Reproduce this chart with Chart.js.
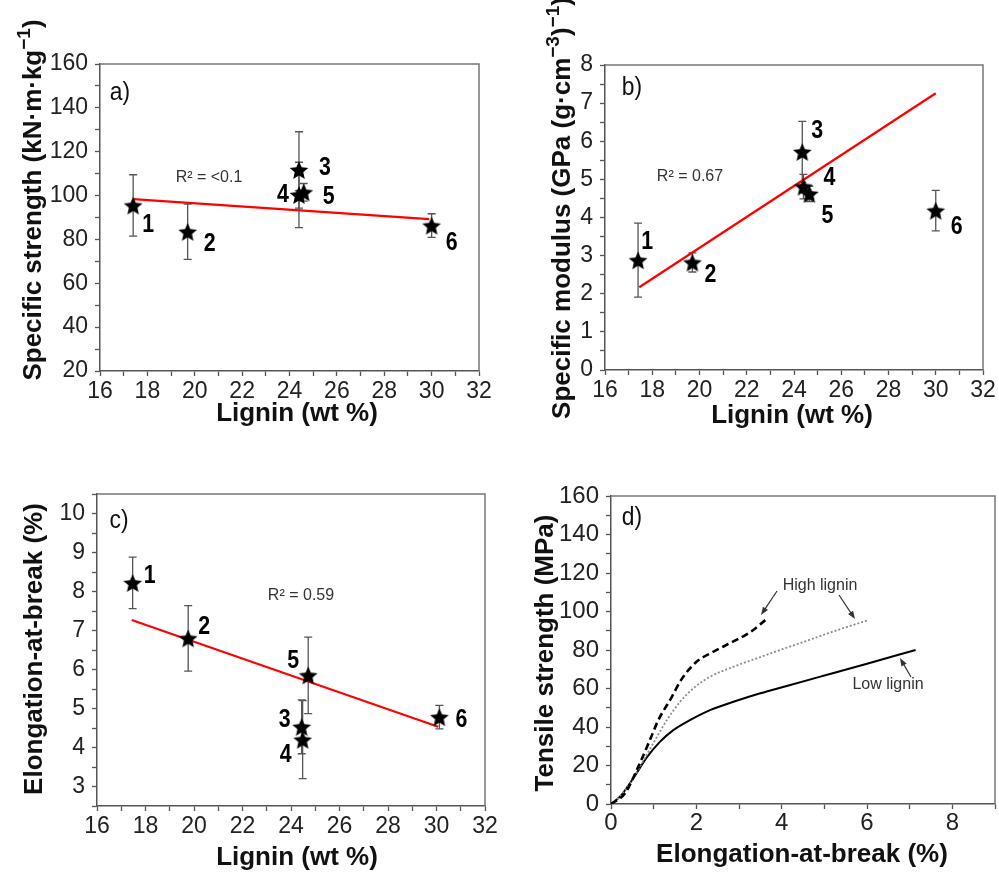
<!DOCTYPE html>
<html>
<head>
<meta charset="utf-8">
<script src="https://cdn.jsdelivr.net/npm/chart.js@4.4.1/dist/chart.umd.min.js"></script>
<style>
  body { margin: 0; background: #fff; }
  #wrap { position: relative; width: 999px; height: 872px; overflow: hidden; background: #fff; }
  canvas { position: absolute; }
</style>
</head>
<body>
<div id="wrap">
  <canvas id="panelA" width="495" height="440" style="left:0;top:0"></canvas>
  <canvas id="panelB" width="504" height="440" style="left:495px;top:0"></canvas>
  <canvas id="panelC" width="500" height="432" style="left:0;top:440px"></canvas>
  <canvas id="panelD" width="499" height="432" style="left:500px;top:440px"></canvas>
</div>
<script>
const SANS = '"Liberation Sans", Arial, Helvetica, sans-serif';

// sample numbers written next to each star
const sampleNames = ["1", "2", "3", "4", "5", "6"];

// a) specific strength vs lignin
const ligninA = [17.4, 19.7, 24.4, 24.4, 24.6, 30.0];
const strengthA = [95.5, 83.5, 111.7, 100.3, 101.5, 86.3];
const strengthErrA = [14.0, 12.6, 17.4, 14.9, 4.0, 5.4];
const strengthFitX = [17.4, 29.9];
const strengthFitY = [98.4, 89.3];

// b) specific modulus vs lignin
const ligninB = [17.4, 19.7, 24.35, 24.4, 24.65, 30.0];
const modulusB = [2.88, 2.82, 5.72, 4.81, 4.62, 4.18];
const modulusErrB = [0.97, 0.25, 0.8, 0.32, 0.2, 0.53];
const modulusFitX = [17.45, 30.0];
const modulusFitY = [2.17, 7.26];

// c) elongation-at-break vs lignin
const ligninC = [17.47, 19.76, 24.44, 24.48, 24.71, 30.12];
const elongationC = [8.22, 6.8, 4.53, 4.2, 5.85, 4.78];
const elongationErrC = [0.66, 0.84, 0.69, 1.0, 0.98, 0.3];
const elongationFitX = [17.43, 30.07];
const elongationFitY = [7.27, 4.53];

// d) tensile curves
const strainHighShort = [0, 0.33, 0.64, 0.88, 1.11, 1.41, 1.66, 2.01, 2.36, 2.79, 3.26, 3.62];
const stressHighShort = [0, 5.6, 19.4, 31.5, 43.6, 55, 65, 74, 78.6, 83.6, 89.2, 95.6];
const strainHighLong = [0, 0.21, 0.52, 0.72, 0.99, 1.31, 1.62, 1.93, 2.32, 2.87, 3.42, 4.04, 4.59, 5.3, 6.04];
const stressHighLong = [0, 3.8, 13.3, 21, 31.5, 43.6, 53.1, 60.1, 66.1, 71.3, 75.7, 80.6, 84.8, 90.3, 95.6];
const strainLow = [0, 0.21, 0.52, 0.84, 1.15, 1.46, 1.85, 2.32, 2.87, 3.5, 4.12, 4.98, 6.0, 7.14];
const stressLow = [0, 3.8, 13.3, 24.2, 32.4, 38.4, 43.6, 48.8, 53.1, 57.5, 61.3, 66.6, 72.9, 80];

// filled five-point star used as marker
function makeStar(r) {
  const c = document.createElement("canvas");
  const s = Math.ceil(r * 2 + 2);
  c.width = s; c.height = s;
  const g = c.getContext("2d");
  g.translate(s / 2, s / 2 + r * 0.1);
  g.beginPath();
  for (let i = 0; i < 10; i++) {
    const rad = i % 2 === 0 ? r : r * 0.46;
    const a = -Math.PI / 2 + i * Math.PI / 5;
    g.lineTo(rad * Math.cos(a), rad * Math.sin(a));
  }
  g.closePath();
  g.fillStyle = "#000";
  g.fill();
  return c;
}
const star = makeStar(9.8);

const pts = (xs, ys) => xs.map((x, i) => ({ x, y: ys[i] }));

function drawRich(ctx, item) {
  const parts = Array.isArray(item.text) ? item.text : [{ t: item.text }];
  const size = item.size;
  const weight = item.weight || "normal";
  const fontFor = p => `${weight} ${p.sup ? Math.round(size * 0.72) : size}px ${SANS}`;
  const widths = parts.map(p => { ctx.font = fontFor(p); return ctx.measureText(p.t).width; });
  const total = widths.reduce((s, w) => s + w, 0);
  ctx.save();
  ctx.translate(item.x, item.y);
  if (item.rotate) ctx.rotate(item.rotate);
  if (item.squeeze) ctx.scale(item.squeeze, 1);
  ctx.fillStyle = item.color || "#000";
  ctx.textBaseline = item.baseline || "alphabetic";
  ctx.textAlign = "left";
  let cx = -total / 2;
  parts.forEach((p, i) => {
    ctx.font = fontFor(p);
    ctx.fillText(p.t, cx, p.sup ? -size * 0.42 : 0);
    cx += widths[i];
  });
  ctx.restore();
}

// vertical error bars for dataset 0
const errorBars = {
  id: "errorBars",
  beforeDatasetsDraw(chart, args, opts) {
    if (!opts.errors) return;
    const { ctx, scales: { x, y } } = chart;
    ctx.save();
    ctx.strokeStyle = "#555";
    ctx.lineWidth = 1.3;
    chart.data.datasets[0].data.forEach((p, i) => {
      const e = opts.errors[i];
      const px = x.getPixelForValue(p.x);
      const top = y.getPixelForValue(p.y + e);
      const bot = y.getPixelForValue(p.y - e);
      ctx.beginPath();
      ctx.moveTo(px, top); ctx.lineTo(px, bot);
      ctx.moveTo(px - 4, top); ctx.lineTo(px + 4, top);
      ctx.moveTo(px - 4, bot); ctx.lineTo(px + 4, bot);
      ctx.stroke();
    });
    ctx.restore();
  }
};

// sample numbers beside the stars, slightly condensed
const pointTags = {
  id: "pointTags",
  afterDatasetsDraw(chart, args, opts) {
    if (!opts.labels) return;
    const { ctx } = chart;
    const meta = chart.getDatasetMeta(0);
    meta.data.forEach((el, i) => {
      const [dx, dy] = opts.offsets[i];
      drawRich(ctx, { text: opts.labels[i], x: el.x + dx, y: el.y + dy, size: 26, weight: "bold", baseline: "middle", squeeze: 0.82 });
    });
  }
};

// frame, titles, notes and arrows
const decor = {
  id: "decor",
  afterDraw(chart, args, opts) {
    const { ctx, chartArea: a } = chart;
    ctx.save();
    ctx.strokeStyle = "#777";
    ctx.lineWidth = 1.5;
    ctx.beginPath();
    ctx.moveTo(a.left, a.top);
    ctx.lineTo(a.right, a.top);
    ctx.lineTo(a.right, a.bottom);
    ctx.stroke();
    (opts.texts || []).forEach(t => drawRich(ctx, t));
    (opts.arrows || []).forEach(([x1, y1, x2, y2]) => {
      ctx.strokeStyle = "#333";
      ctx.fillStyle = "#333";
      ctx.lineWidth = 1.2;
      const ang = Math.atan2(y2 - y1, x2 - x1);
      const c = Math.cos(ang), s = Math.sin(ang);
      ctx.beginPath();
      ctx.moveTo(x1, y1);
      ctx.lineTo(x2 - 5 * c, y2 - 5 * s);
      ctx.stroke();
      ctx.beginPath();
      ctx.moveTo(x2, y2);
      ctx.lineTo(x2 - 8 * c + 3 * s, y2 - 8 * s - 3 * c);
      ctx.lineTo(x2 - 8 * c - 3 * s, y2 - 8 * s + 3 * c);
      ctx.closePath();
      ctx.fill();
    });
    ctx.restore();
  }
};

function axis(min, max, step, every, fit, fontSize, pad) {
  return {
    type: "linear",
    min, max,
    afterFit: fit,
    border: { color: "#555", width: 1.5 },
    grid: { drawOnChartArea: false, drawTicks: true, tickLength: 5, tickColor: "#555", tickWidth: 1.3 },
    ticks: {
      stepSize: step,
      autoSkip: false,
      maxRotation: 0,
      color: "#222",
      padding: pad,
      font: { family: SANS, size: fontSize, lineHeight: 1.2 },
      callback: v => Math.abs(v / every - Math.round(v / every)) < 1e-6 ? String(Math.round(v * 10) / 10) : ""
    }
  };
}

function panel(id, cfg) {
  return new Chart(document.getElementById(id), {
    type: "scatter",
    data: { datasets: cfg.datasets },
    options: {
      responsive: false,
      animation: false,
      events: [],
      layout: { padding: { left: 0, top: cfg.top, right: cfg.right, bottom: 0 } },
      scales: {
        x: axis(cfg.x[0], cfg.x[1], cfg.x[2], cfg.x[3], s => { s.height = cfg.xh; }, cfg.font, cfg.xpad),
        y: axis(cfg.y[0], cfg.y[1], cfg.y[2], cfg.y[3], s => { s.width = cfg.yw; }, cfg.font, 7)
      },
      plugins: {
        legend: { display: false },
        tooltip: { enabled: false },
        errorBars: { errors: cfg.errors },
        pointTags: { labels: cfg.errors ? sampleNames : null, offsets: cfg.offsets },
        decor: { texts: cfg.texts, arrows: cfg.arrows }
      }
    },
    plugins: [errorBars, pointTags, decor]
  });
}

function starSet(xs, ys) {
  return { data: pts(xs, ys), pointStyle: star, pointRadius: 9, showLine: false };
}
function fitSet(xs, ys) {
  return { data: pts(xs, ys), showLine: true, borderColor: "#ff0000", borderWidth: 2.2, pointRadius: 0 };
}
const titleY = (text, x, y) => ({ text, x, y, size: 26, weight: "bold", rotate: -Math.PI / 2, color: "#111" });
const titleX = (text, x, y) => ({ text, x, y, size: 26, weight: "bold", color: "#111" });
const letter = (text, x, y) => ({ text, x, y, size: 26, color: "#111", squeeze: 0.88 });
const note = (text, x, y) => ({ text, x, y, size: 16, baseline: "middle", color: "#333" });

panel("panelA", {
  top: 64, right: 16, yw: 100, xh: 69, font: 23, xpad: 2,
  x: [16, 32, 1, 2], y: [20, 160, 10, 20],
  datasets: [starSet(ligninA, strengthA), fitSet(strengthFitX, strengthFitY)],
  errors: strengthErrA,
  offsets: [[15, 19], [22, 12], [26, -2], [-16, 0], [25, 5], [20, 17]],
  texts: [
    titleY([{ t: "Specific strength (kN·m·kg" }, { t: "\u22121", sup: true }, { t: ")" }], 41, 200),
    titleX("Lignin (wt %)", 297, 421),
    letter("a)", 120, 100),
    note("R² = <0.1", 209, 178)
  ]
});

panel("panelB", {
  top: 65, right: 16, yw: 110, xh: 70, font: 23, xpad: 2,
  x: [16, 32, 1, 2], y: [0, 8, 0.5, 1],
  datasets: [starSet(ligninB, modulusB), fitSet(modulusFitX, modulusFitY)],
  errors: modulusErrB,
  offsets: [[9, -18], [18, 12], [15, -21], [26, -9], [18, 22], [21, 16]],
  texts: [
    titleY([{ t: "Specific modulus (GPa (g·cm" }, { t: "\u22123", sup: true }, { t: ")" }, { t: "\u22121", sup: true }, { t: ")" }], 75, 208),
    titleX("Lignin (wt %)", 297, 423),
    letter("b)", 137, 95),
    note("R² = 0.67", 195, 177)
  ]
});

panel("panelC", {
  top: 54, right: 15, yw: 97, xh: 66, font: 23, xpad: 2,
  x: [16, 32, 1, 2], y: [2.5, 10.5, 0.5, 1],
  datasets: [starSet(ligninC, elongationC), fitSet(elongationFitX, elongationFitY)],
  errors: elongationErrC,
  offsets: [[17, -7], [16, -11], [-17, -7], [-17, 15], [-15, -15], [22, 3]],
  texts: [
    titleY("Elongation-at-break (%)", 42, 209),
    titleX("Lignin (wt %)", 297, 425),
    letter("c)", 119, 88),
    note("R² = 0.59", 301, 156)
  ]
});

panel("panelD", {
  top: 56, right: 4, yw: 111, xh: 68, font: 24, xpad: 0,
  x: [0, 9, 1, 2], y: [0, 160, 10, 20],
  datasets: [
    { data: pts(strainHighShort, stressHighShort), showLine: true, pointRadius: 0, borderColor: "#000", borderWidth: 2.6, borderDash: [7, 4], cubicInterpolationMode: "monotone" },
    { data: pts(strainHighLong, stressHighLong), showLine: true, pointRadius: 0, borderColor: "#8c8c8c", borderWidth: 1.8, borderDash: [2, 2], cubicInterpolationMode: "monotone" },
    { data: pts(strainLow, stressLow), showLine: true, pointRadius: 0, borderColor: "#000", borderWidth: 2, cubicInterpolationMode: "monotone" }
  ],
  texts: [
    titleY("Tensile strength (MPa)", 53, 213),
    titleX("Elongation-at-break (%)", 302, 422),
    letter("d)", 132, 85),
    note("High lignin", 320, 146),
    note("Low lignin", 388, 245)
  ],
  arrows: [[277, 151, 261, 175], [339, 155, 355, 179], [411, 237, 400, 218]]
});
</script>
</body>
</html>
